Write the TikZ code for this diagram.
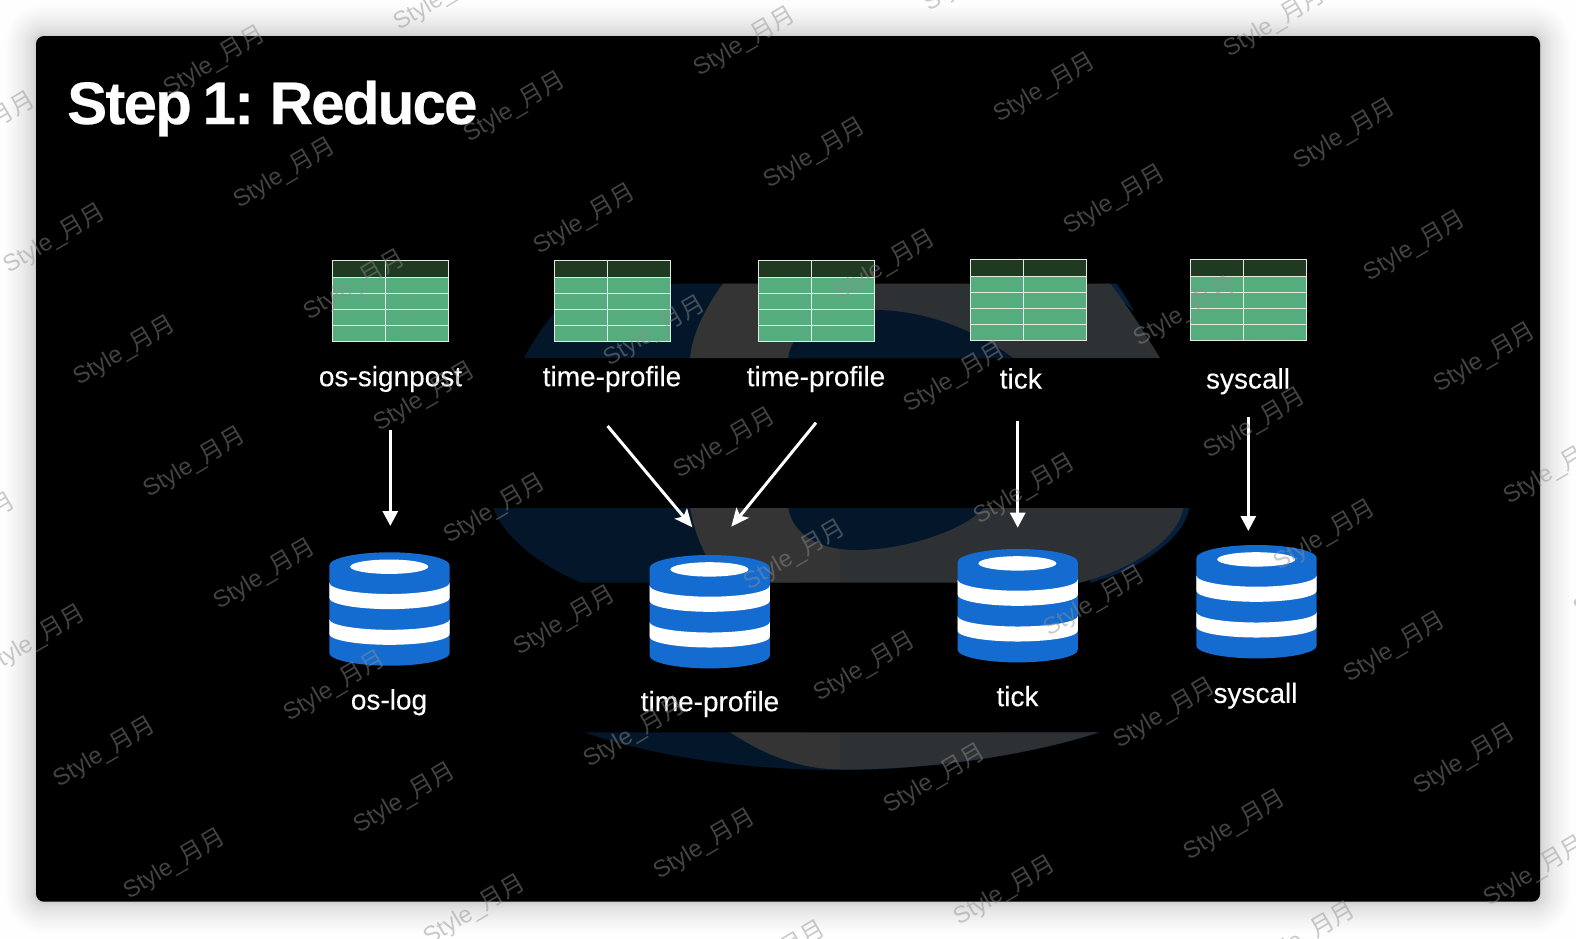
\documentclass[tikz,border=0pt]{standalone}
\usepackage{fontspec}
\setmainfont{Liberation Sans}
\newfontfamily\titlefont[LetterSpace=-3,WordSpace=0.72,BoldFeatures={FakeBold=0.4}]{Liberation Sans}
\newfontfamily\labfont[FakeBold=0.2]{Liberation Sans}
\newfontfamily\cjkwm{Noto Sans CJK SC}
\usetikzlibrary{arrows.meta,calc}
\definecolor{pageback}{HTML}{FEFEFE}
\definecolor{logoblue}{HTML}{04172A}
\definecolor{logoblueb}{HTML}{06203C}
\definecolor{logogray}{HTML}{343434}
\definecolor{logograyb}{HTML}{2E3134}
\definecolor{tablebody}{HTML}{55AC7C}
\definecolor{tablehead}{HTML}{1F3A20}
\definecolor{tableline}{HTML}{E2EAE4}
\definecolor{dbblue}{HTML}{146CD0}
\definecolor{wmgray}{HTML}{8F8F8F}
\tikzset{
  tablebox/.style={rectangle,fill=tablebody,draw=tableline,line width=1.4pt,minimum width=116pt,minimum height=81pt,inner sep=0pt,outer sep=0pt,anchor=north west},
  tablerule/.style={draw=tableline,line width=1.4pt},
  dbbox/.style={rectangle,minimum width=120.4pt,minimum height=113.4pt,inner sep=0pt,anchor=north},
  lab/.style={text=white,inner sep=0pt,anchor=base,font=\labfont\fontsize{28}{30}\selectfont},
  wmark/.style={text=wmgray,opacity=.47,rotate=30.5,inner sep=0pt,font=\fontsize{23.8}{25}\selectfont},
  arrv/.style={draw=white,line width=3pt,-{Triangle[length=15pt,width=15pt]}},
  arrd/.style={draw=white,line width=3pt,-{Stealth[length=18pt,width=16pt,inset=4pt]}}
}
\newcommand{\tablegrid}[3]{%
  \node[tablebox] (#1) at (#2,#3) {};
  \begin{scope}[shift={(#2,#3)}]
    \fill[tablehead] (0,0) rectangle (116,17);
    \draw[tablerule] (0,0) rectangle (116,81);
    \draw[tablerule] (0,17) -- (116,17) (0,33) -- (116,33) (0,49) -- (116,49) (0,65) -- (116,65) (53,0) -- (53,81);
  \end{scope}}
\newcommand{\dbstack}[3]{%
  \node[dbbox] (#1) at (#2,#3) {};
  \begin{scope}[shift={(#2,#3)}]
    \fill[dbblue] (-60.2,13.2) arc[start angle=180,end angle=0,x radius=60.2pt,y radius=13.2pt] -- (60.2,100.6) arc[start angle=0,end angle=-180,x radius=60.2pt,y radius=12.8pt] -- cycle;
    \fill[white] (-60.2,30.4) arc[start angle=180,end angle=360,x radius=60.2pt,y radius=11.3pt] -- (60.2,45.7) arc[start angle=0,end angle=-180,x radius=60.2pt,y radius=11.1pt] -- cycle;
    \fill[white] (-60.2,67) arc[start angle=180,end angle=360,x radius=60.2pt,y radius=10.5pt] -- (60.2,81.7) arc[start angle=0,end angle=-180,x radius=60.2pt,y radius=10.8pt] -- cycle;
    \fill[white] (-0.3,14.4) ellipse[x radius=39pt,y radius=7.2pt];
  \end{scope}}
\newcommand{\logogrey}{%
  \fill (690,358) .. controls (692,335) and (705,308) .. (723,283.6) -- (1110,283.6) .. controls (1122,298) and (1143,330) .. (1160,358) -- cycle;
  \fill (690,508) -- (1183.3,508) .. controls (1178,540) and (1130,570) .. (1080,582.7) -- (725,582.7) .. controls (705,560) and (695,535) .. (690,508) -- cycle;
  \fill (730,732.3) -- (1098,732.3) .. controls (1030,755) and (930,769.5) .. (842,769.5) .. controls (800,769.5) and (765,755) .. (730,732.3) -- cycle;}
\begin{document}
\begin{tikzpicture}[x=1pt,y=-1pt]
\useasboundingbox (0,0) rectangle (1576,938);
\fill[pageback] (0,0) rectangle (1576,938);
% soft window shadow: layers crowd towards the panel
\foreach \k in {1,...,26}{
  \pgfmathsetmacro\rr{\k*\k/22}
  \fill[black,opacity=.0075,rounded corners={(8+\rr)*1pt}] (36-\rr,36-\rr) rectangle (1540+\rr,901.7+\rr);
}
\fill[black,rounded corners=8pt] (36,36) rectangle (1540,901.7);
% background logo, cut in three bands
\fill[logoblue] (524,358) .. controls (540,328) and (565,295) .. (590,283.6) -- (800,283.6) -- (800,358) -- cycle;
\fill[logoblueb] (1105,283.6) -- (1116.5,283.6) .. controls (1122,291) and (1128,300) .. (1134,312) -- cycle;
\fill[logoblue] (493.3,508) -- (800,508) -- (800,582.7) -- (581.7,582.7) .. controls (545,568) and (505,540) .. (493.3,508) -- cycle;
\fill[logoblueb] (1100,508) -- (1189.3,508) .. controls (1184,540) and (1135,572) .. (1090,582.7) -- cycle;
\fill[logoblue] (583.8,732.3) -- (800,732.3) -- (842,770) .. controls (750,770) and (660,758) .. (583.8,732.3) -- cycle;
\fill[logoblueb] (842,770) .. controls (930,770) and (1030,755) .. (1100,732.3) -- (1000,732.3) -- cycle;
\begin{scope}
  \clip (0,0) rectangle (840,938);
  \begin{scope}[fill=logogray] \logogrey \end{scope}
\end{scope}
\begin{scope}
  \clip (840,0) rectangle (1576,938);
  \begin{scope}[fill=logograyb] \logogrey \end{scope}
\end{scope}
\fill[logoblue] (788.3,358) .. controls (790,330) and (830,310) .. (875,310) .. controls (925,310) and (975,330) .. (1013,358) -- cycle;
\fill[logoblue] (788.3,508) .. controls (793,535) and (820,550) .. (856.7,550) .. controls (905,550) and (965,530) .. (983.3,508) -- cycle;
% title
\node[inner sep=0pt,anchor=base west,text=white,font=\titlefont\bfseries\fontsize{60}{64}\selectfont] (title) at (67,124) {Step 1: Reduce};
% source tables
\tablegrid{tblA}{332.5}{260.5}
\tablegrid{tblB}{554.5}{260.5}
\tablegrid{tblC}{758.5}{260.5}
\tablegrid{tblD}{970.5}{259.5}
\tablegrid{tblE}{1190.5}{259.5}
% target stores
\dbstack{dbA}{389.5}{552.3}
\dbstack{dbB}{709.7}{555}
\dbstack{dbC}{1017.7}{549}
\dbstack{dbD}{1256.5}{545}
% labels
\node[lab] (lsA) at (390.5,386.2) {os-signpost};
\node[lab] (lsB) at (612,386.2) {time-profile};
\node[lab] (lsC) at (816,386.2) {time-profile};
\node[lab] (lsD) at (1020.8,388.5) {tick};
\node[lab] (lsE) at (1248,388.5) {syscall};
\node[lab] (ldA) at (389,709.5) {os-log};
\node[lab] (ldB) at (710,711.2) {time-profile};
\node[lab] (ldC) at (1017.5,706.2) {tick};
\node[lab] (ldD) at (1255.5,702.9) {syscall};
% connectors
\draw[arrv] ([xshift=-.2pt,yshift=-43.8pt]lsA.base) -- ([xshift=.8pt,yshift=26.3pt]dbA.north);
\draw[arrd] ([xshift=-4.4pt,yshift=-39.8pt]lsB.base) -- ([xshift=-17.3pt,yshift=27.7pt]dbB.north);
\draw[arrd] ([yshift=-36.5pt]lsC.base) -- ([xshift=21.6pt,yshift=28.3pt]dbB.north);
\draw[arrv] ([xshift=-3.1pt,yshift=-32.2pt]lsD.base) -- ([yshift=21.3pt]dbC.north);
\draw[arrv] ([xshift=.3pt,yshift=-28.8pt]lsE.base) -- ([xshift=-8.2pt,yshift=14pt]dbD.north);
% watermark lattice
\begin{scope}
\clip (0,0) rectangle (1576,938);
\foreach \i in {-2,...,5}{
  \foreach \j in {-4,...,8}{
    \pgfmathsetmacro\wx{54.5+300*\i+70*\j}
    \pgfmathsetmacro\wy{239+46.2*\i+111.9*\j}
    \ifdim\wx pt>-60pt \ifdim\wx pt<1636pt \ifdim\wy pt>-35pt \ifdim\wy pt<973pt
      \node[wmark] (wm\i x\j) at (\wx,\wy) {Style\_{\cjkwm 月月}};
    \fi\fi\fi\fi
  }
}
\end{scope}
\end{tikzpicture}
\end{document}
